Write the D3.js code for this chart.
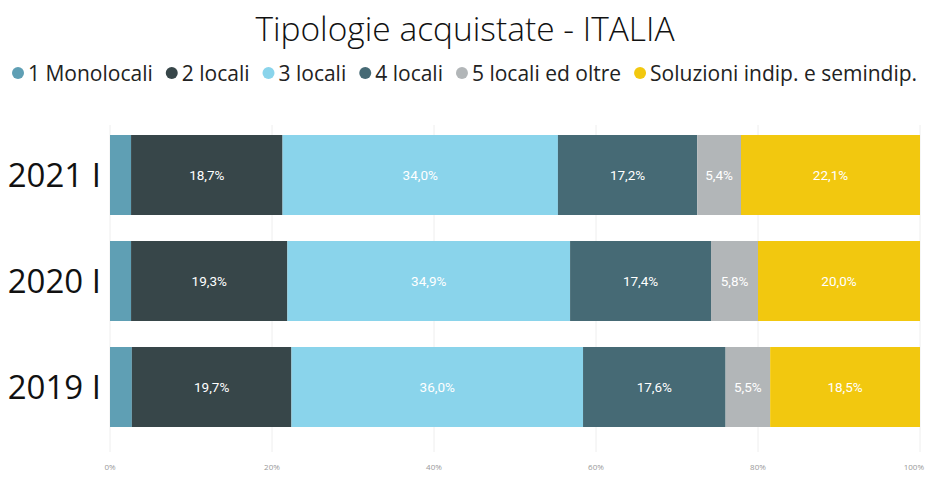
<!DOCTYPE html>
<html>
<head>
<meta charset="utf-8">
<script src="https://cdn.jsdelivr.net/npm/d3@7"></script>
<style>
  body { margin: 0; background: #fff; }
  text { font-family: "Open Sans", "Noto Sans", sans-serif; }
</style>
</head>
<body>
<div id="chart-container"></div>
<script>
// data
const periods = ["2021 I", "2020 I", "2019 I"];
const seriesNames = ["1 Monolocali", "2 locali", "3 locali", "4 locali", "5 locali ed oltre", "Soluzioni indip. e semindip."];
const monolocali = [2.6, 2.6, 2.7];
const locali2 = [18.7, 19.3, 19.7];
const locali3 = [34.0, 34.9, 36.0];
const locali4 = [17.2, 17.4, 17.6];
const locali5 = [5.4, 5.8, 5.5];
const soluzioni = [22.1, 20.0, 18.5];
const xTicks = [0, 20, 40, 60, 80, 100];
const colors = ["#5f9fb4", "#374649", "#8ad4eb", "#466a75", "#b2b6b8", "#f2c80f"];

const width = 928, height = 485;
const margin = {top: 135, right: 8, bottom: 58, left: 110};

const svg = d3.select("#chart-container")
    .append("svg")
    .attr("width", width)
    .attr("height", height);

// title
svg.append("text")
    .attr("x", 465)
    .attr("y", 41)
    .attr("text-anchor", "middle")
    .style("font-size", "33.5px")
    .style("font-weight", 300)
    .attr("fill", "#111")
    .text("Tipologie acquistate - ITALIA");

// legend
const legend = svg.append("g").attr("transform", "translate(12,73)");
let lx = 0;
seriesNames.forEach((name, i) => {
    const g = legend.append("g").attr("transform", `translate(${lx},0)`);
    g.append("circle").attr("cx", 6).attr("cy", 0).attr("r", 6).attr("fill", colors[i]);
    const t = g.append("text")
        .attr("x", 16)
        .attr("y", 7.5)
        .style("font-size", "21px")
        .attr("fill", "#222")
        .text(name);
    lx += 16 + t.node().getComputedTextLength() + 13;
});

const rows = periods.map((p, i) => ({
    period: p,
    values: [monolocali[i], locali2[i], locali3[i], locali4[i], locali5[i], soluzioni[i]]
}));

const x = d3.scaleLinear()
    .domain([0, 100])
    .range([margin.left, width - margin.right]);

const y = d3.scaleBand()
    .domain(periods)
    .range([margin.top, 427])
    .paddingInner(26 / 106)
    .paddingOuter(0);

// grid lines
svg.append("g")
    .selectAll("line")
    .data(xTicks)
    .join("line")
    .attr("x1", d => x(d))
    .attr("x2", d => x(d))
    .attr("y1", 125)
    .attr("y2", 452)
    .attr("stroke", "#eeeeee")
    .attr("stroke-width", 1);

// x axis labels
svg.append("g")
    .selectAll("text")
    .data(xTicks)
    .join("text")
    .attr("x", d => d === 100 ? x(d) + 4 : x(d))
    .attr("y", 470)
    .attr("text-anchor", d => d === 100 ? "end" : "middle")
    .style("font-size", "8px")
    .attr("fill", "#999")
    .text(d => d + "%");

// y labels
svg.append("g")
    .selectAll("text")
    .data(periods)
    .join("text")
    .attr("x", 101)
    .attr("y", d => y(d) + y.bandwidth() / 2 + 12)
    .attr("text-anchor", "end")
    .style("font-size", "33px")
    .attr("fill", "#111")
    .text(d => d);

// bars
const stackData = rows.map(r => {
    let acc = 0;
    return r.values.map((v, i) => {
        const s = {period: r.period, x0: acc, x1: acc + v, v: v, i: i};
        acc += v;
        return s;
    });
}).flat();

svg.append("g")
    .selectAll("rect")
    .data(stackData)
    .join("rect")
    .attr("x", d => x(d.x0))
    .attr("y", d => y(d.period))
    .attr("width", d => x(d.x1) - x(d.x0))
    .attr("height", y.bandwidth())
    .attr("fill", d => colors[d.i]);

// data labels (skip monolocali, too narrow)
svg.append("g")
    .selectAll("text")
    .data(stackData.filter(d => d.i > 0))
    .join("text")
    .attr("x", d => (x(d.x0) + x(d.x1)) / 2)
    .attr("y", d => y(d.period) + y.bandwidth() / 2 + 5)
    .attr("text-anchor", "middle")
    .style("font-family", "Roboto, sans-serif")
    .style("font-size", "13.5px")
    .attr("fill", "#fff")
    .text(d => d3.format(".1f")(d.v).replace(".", ",") + "%");
</script>
</body>
</html>
